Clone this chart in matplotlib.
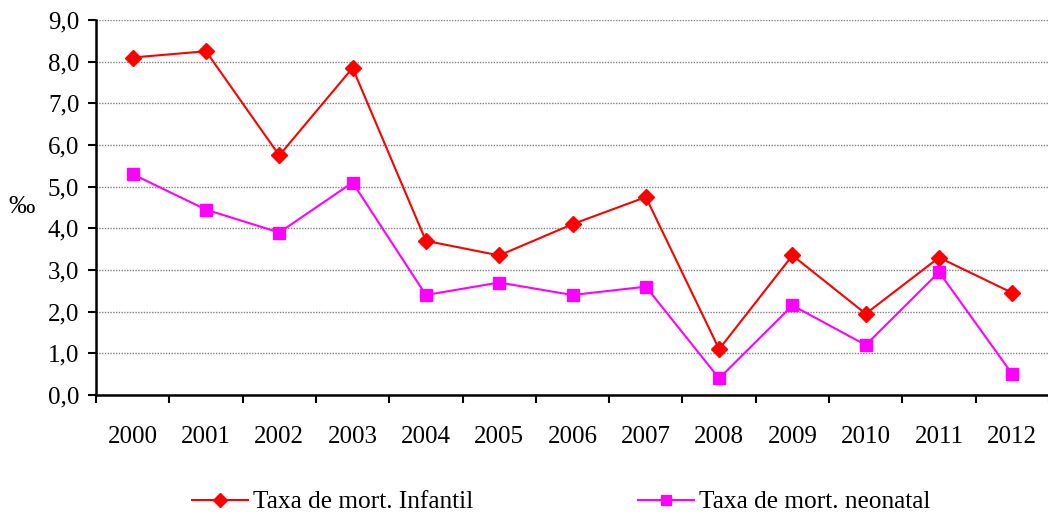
import matplotlib
matplotlib.use("Agg")
import matplotlib.pyplot as plt
import numpy as np

years = ["2000", "2001", "2002", "2003", "2004", "2005", "2006", "2007", "2008", "2009", "2010", "2011", "2012"]
infantil = [8.1, 8.25, 5.75, 7.85, 3.7, 3.35, 4.1, 4.75, 1.1, 3.35, 1.95, 3.3, 2.45]
neonatal = [5.3, 4.45, 3.9, 5.1, 2.4, 2.7, 2.4, 2.6, 0.4, 2.15, 1.2, 2.95, 0.5]
yticks = [0, 1, 2, 3, 4, 5, 6, 7, 8, 9]

plt.rcParams['font.family'] = ['Liberation Serif', 'DejaVu Serif']

fig = plt.figure(figsize=(10.48, 5.16), dpi=100)
ax = fig.add_axes([96/1048, 1 - 395/516, 953/1048, 375/516])

x = np.arange(len(years))
ax.plot(x, infantil, color='#FF0000', lw=1.5, marker='D', ms=8.5, label='Taxa de mort. Infantil')
ax.plot(x, neonatal, color='#FF00FF', lw=1.5, marker='s', ms=8.5, label='Taxa de mort. neonatal')

ax.set_xlim(-0.5, len(years) - 0.5)
ax.set_ylim(0, 9)
ax.set_yticks(yticks)
ax.set_yticklabels([f"{v:.1f}".replace('.', ',') for v in yticks], fontsize=18)
ax.set_xticks(x)
ax.set_xticklabels(years, fontsize=18)
ax.tick_params(axis='x', length=0, pad=22)
ax.set_xticks(np.arange(-0.5, len(years), 1), minor=True)
ax.tick_params(axis='x', which='minor', length=6, width=1.5, direction='out')
ax.tick_params(axis='y', length=6, width=1.5, direction='out', pad=6)

ax.grid(axis='y', color='#808080', linestyle=(0, (1, 1)), lw=1)
ax.set_axisbelow(True)
for s in ['top', 'right']:
    ax.spines[s].set_visible(False)
for s in ['left', 'bottom']:
    ax.spines[s].set_linewidth(1.8)

fig.text(22/1048, 1 - 207/516, '‰', fontsize=19, ha='center', va='center')

fig.legend(loc='center', bbox_to_anchor=(561/1048, 1 - 502/516), ncol=2, frameon=False,
           fontsize=18.3, columnspacing=6.5, handlelength=2.2, handletextpad=0.2,
           markerscale=0.85)

fig.savefig('out.png', dpi=100)
